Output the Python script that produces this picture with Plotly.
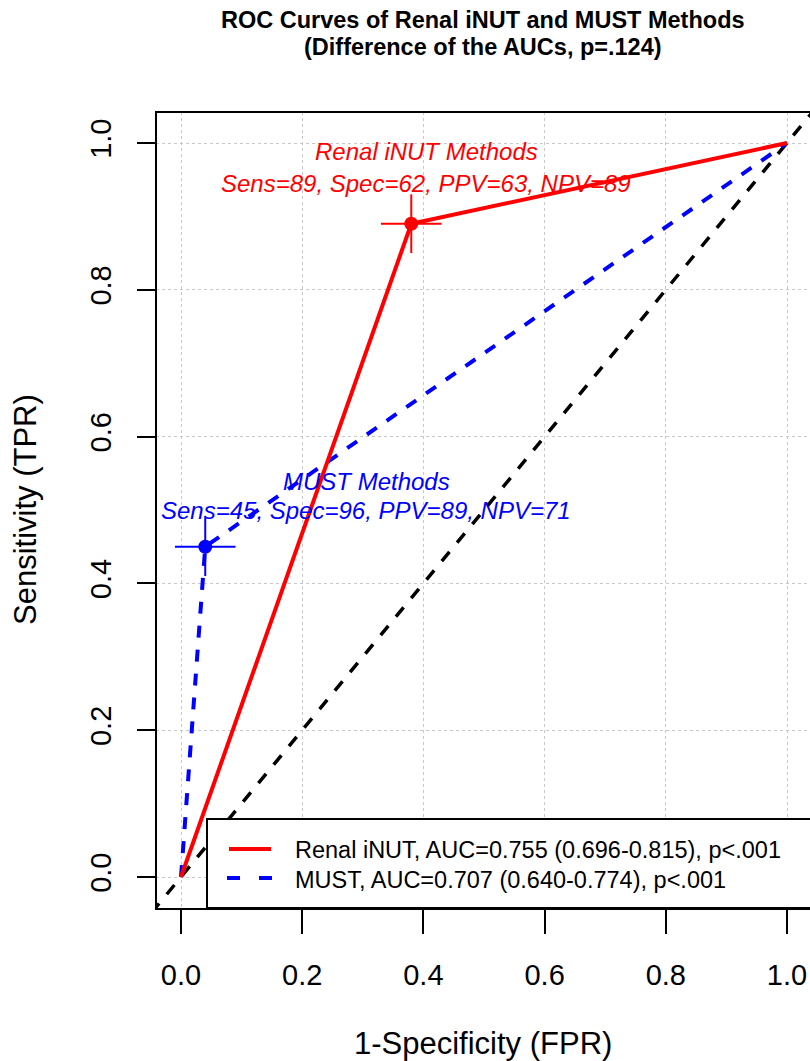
import plotly.graph_objects as go

# ---------------- data ----------------
renal_fpr = [0.0, 0.38, 1.0]
renal_tpr = [0.0, 0.89, 1.0]
must_fpr = [0.0, 0.04, 1.0]
must_tpr = [0.0, 0.45, 1.0]
renal_point = [0.38, 0.89]
renal_err = [0.05, 0.04]
must_point = [0.04, 0.45]
must_err = [0.05, 0.04]
diag = [-0.2, 1.2]
tick_vals = [0.0, 0.2, 0.4, 0.6, 0.8, 1.0]
tick_text = ["0.0", "0.2", "0.4", "0.6", "0.8", "1.0"]
renal_label = ["Renal iNUT Methods", "Sens=89, Spec=62, PPV=63, NPV=89"]
must_label = ["MUST Methods", "Sens=45, Spec=96, PPV=89, NPV=71"]
legend_labels = ["Renal iNUT, AUC=0.755 (0.696-0.815), p<.001",
                 "MUST, AUC=0.707 (0.640-0.774), p<.001"]
title_lines = ["ROC Curves of Renal iNUT and MUST Methods",
               "(Difference of the AUCs, p=.124)"]

# ---------------- layout geometry ----------------
W, H = 810, 1061
L, T, B = 156, 112, 152
PW, PH = W - L, H - T - B
FONT = "Liberation Sans, Arial, Helvetica, sans-serif"
RED, BLUE = "#ff0000", "#0000ff"


def px(p):
    return (p - L) / PW


def py(p):
    return (H - B - p) / PH


fig = go.Figure()

fig.add_trace(go.Scatter(x=diag, y=diag, mode="lines",
                         line=dict(color="black", width=3.5, dash="12px,12px"),
                         showlegend=False, hoverinfo="skip"))
fig.add_trace(go.Scatter(x=must_fpr, y=must_tpr, mode="lines",
                         line=dict(color=BLUE, width=4, dash="12px,12px"),
                         showlegend=False))
fig.add_trace(go.Scatter(x=renal_fpr, y=renal_tpr, mode="lines",
                         line=dict(color=RED, width=4),
                         showlegend=False))
fig.add_trace(go.Scatter(x=[renal_point[0]], y=[renal_point[1]], mode="markers",
                         marker=dict(color=RED, size=14),
                         error_x=dict(type="constant", value=renal_err[0], color=RED, thickness=2, width=0),
                         error_y=dict(type="constant", value=renal_err[1], color=RED, thickness=2, width=0),
                         showlegend=False))
fig.add_trace(go.Scatter(x=[must_point[0]], y=[must_point[1]], mode="markers",
                         marker=dict(color=BLUE, size=14),
                         error_x=dict(type="constant", value=must_err[0], color=BLUE, thickness=2, width=0),
                         error_y=dict(type="constant", value=must_err[1], color=BLUE, thickness=2, width=0),
                         showlegend=False))

annotations = []
# text labels near the points
for i, t in enumerate(renal_label):
    annotations.append(dict(x=px(426), y=py(152 + 31 * i), xref="paper", yref="paper",
                            text=f"<i>{t}</i>", showarrow=False, xanchor="center", yanchor="middle",
                            font=dict(family=FONT, size=24, color=RED)))
for i, t in enumerate(must_label):
    annotations.append(dict(x=px(366), y=py(481 + 29 * i), xref="paper", yref="paper",
                            text=f"<i>{t}</i>", showarrow=False, xanchor="center", yanchor="middle",
                            font=dict(family=FONT, size=24, color=BLUE)))
# title
for i, t in enumerate(title_lines):
    annotations.append(dict(x=px(483), y=py(20 + 27 * i), xref="paper", yref="paper",
                            text=f"<b>{t}</b>", showarrow=False, xanchor="center", yanchor="middle",
                            font=dict(family=FONT, size=23.5, color="black")))
# axis titles
annotations.append(dict(x=px(483), y=py(1043), xref="paper", yref="paper",
                        text="1-Specificity (FPR)", showarrow=False, xanchor="center", yanchor="middle",
                        font=dict(family=FONT, size=31, color="black")))
annotations.append(dict(x=px(25), y=py(510), xref="paper", yref="paper",
                        text="Sensitivity (TPR)", showarrow=False, xanchor="center", yanchor="middle",
                        textangle=-90, font=dict(family=FONT, size=31, color="black")))
# legend text
for i, t in enumerate(legend_labels):
    annotations.append(dict(x=px(293), y=py(850 + 30 * i), xref="paper", yref="paper",
                            text=t, showarrow=False, xanchor="left", yanchor="middle",
                            font=dict(family=FONT, size=23.5, color="black")))

shapes = [
    # plot frame (left, top, bottom)
    dict(type="rect", xref="paper", yref="paper", x0=0, x1=1.01, y0=0, y1=1,
         line=dict(color="black", width=2), fillcolor="rgba(0,0,0,0)", layer="above"),
    # legend box
    dict(type="rect", xref="paper", yref="paper", x0=px(207), x1=1.01, y0=py(908), y1=py(819),
         line=dict(color="black", width=2), fillcolor="white", layer="above"),
    dict(type="line", xref="paper", yref="paper", x0=px(229), x1=px(271), y0=py(849), y1=py(849),
         line=dict(color=RED, width=4), layer="above"),
    dict(type="line", xref="paper", yref="paper", x0=px(227), x1=px(240), y0=py(878), y1=py(878),
         line=dict(color=BLUE, width=4), layer="above"),
    dict(type="line", xref="paper", yref="paper", x0=px(259), x1=px(272), y0=py(878), y1=py(878),
         line=dict(color=BLUE, width=4), layer="above"),
]

fig.update_layout(
    width=W, height=H,
    margin=dict(l=L, r=0, t=T, b=B, pad=0),
    paper_bgcolor="white", plot_bgcolor="white",
    font=dict(family=FONT, color="black"),
    annotations=annotations, shapes=shapes,
    showlegend=False,
)
fig.update_xaxes(range=[(L - 181) / 606, (W - 181) / 606], tickvals=tick_vals, ticktext=tick_text,
                 showgrid=True, gridcolor="#c8c8c8", griddash="dot", gridwidth=1,
                 zeroline=False, showline=False,
                 ticks="outside", ticklen=24, tickwidth=1.5, tickcolor="black",
                 tickfont=dict(family=FONT, size=29), ticklabelstandoff=16)
fig.update_yaxes(range=[(877 - (H - B)) / 734, (877 - T) / 734], tickvals=tick_vals, ticktext=tick_text,
                 showgrid=True, gridcolor="#c8c8c8", griddash="dot", gridwidth=1,
                 zeroline=False, showline=False,
                 ticks="outside", ticklen=18, tickwidth=1.5, tickcolor="black",
                 tickangle=-90, tickfont=dict(family=FONT, size=29), ticklabelstandoff=14)

fig.write_html("out.html",
               config={"displayModeBar": False},
               post_script="document.body.style.margin='0';document.body.style.padding='0';"
                           "document.body.style.overflow='hidden';")
